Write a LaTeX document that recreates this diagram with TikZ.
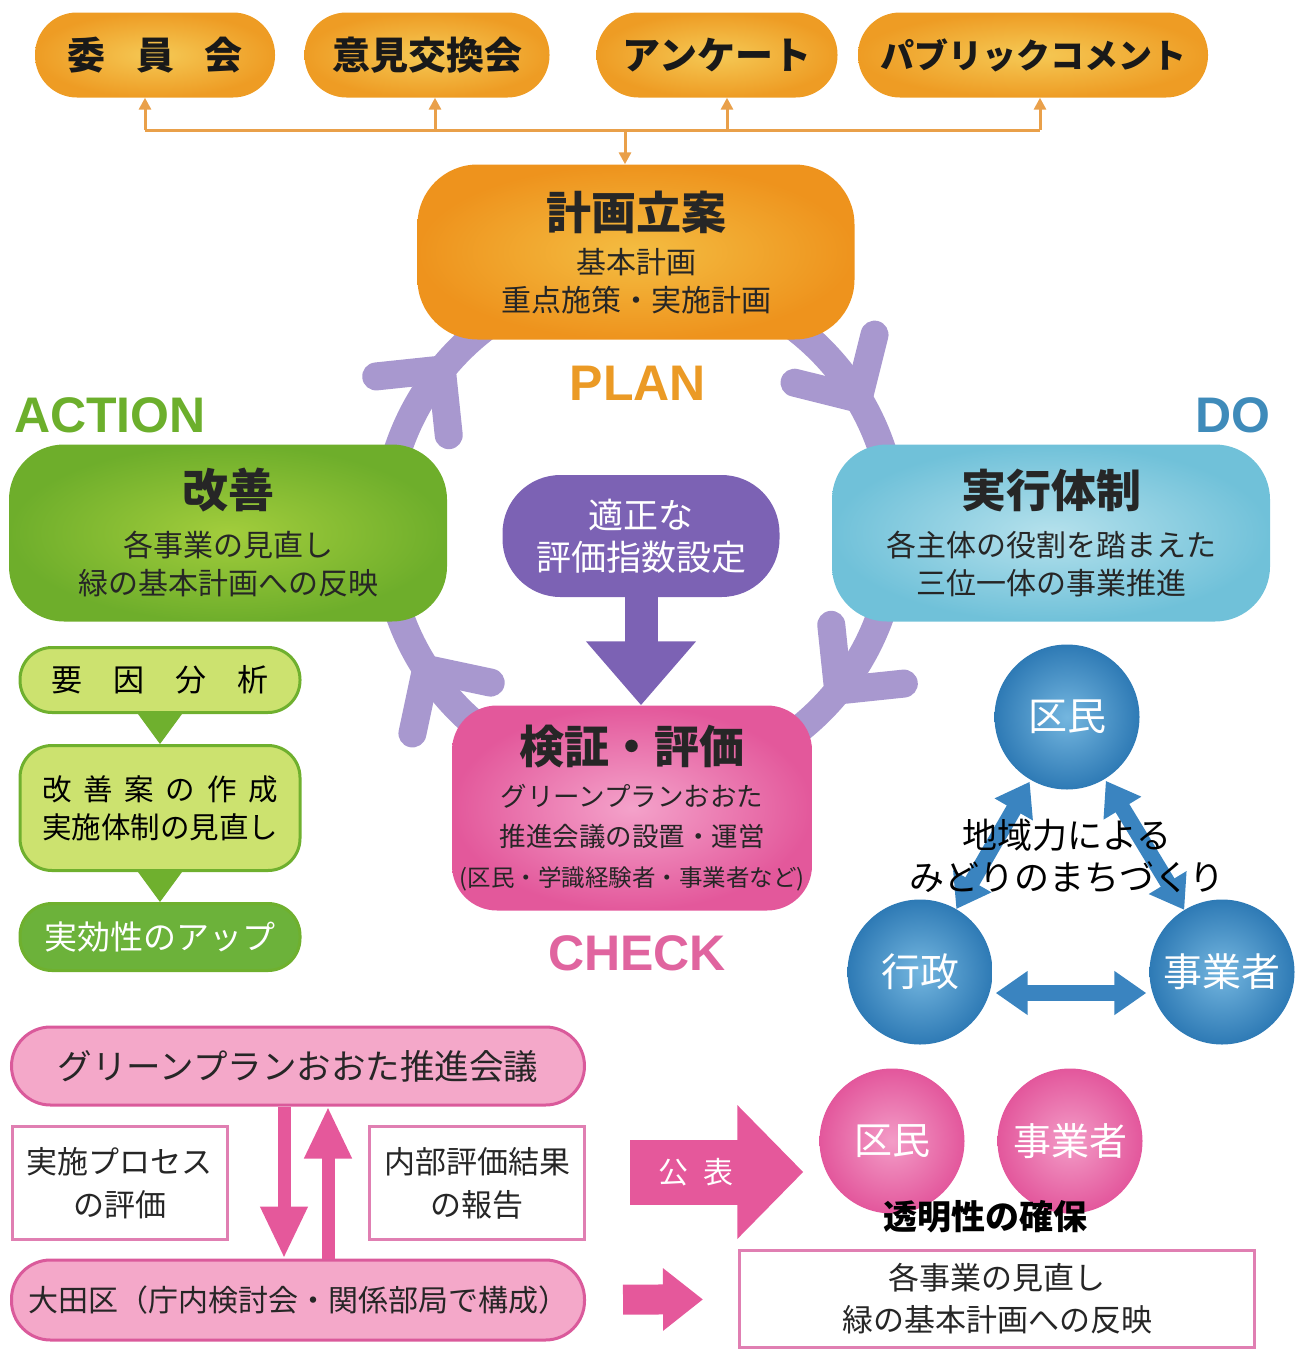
\documentclass[tikz,border=0pt]{standalone}
\usepackage{fontspec}
\setmainfont{Noto Sans CJK JP}
\newfontfamily\latin{Liberation Sans}
\usetikzlibrary{arrows.meta}

\definecolor{orA}{HTML}{F5C955}
\definecolor{orB}{HTML}{EE9C24}
\definecolor{orL}{HTML}{E9A04A}
\definecolor{plA}{HTML}{F4BD42}
\definecolor{plB}{HTML}{EE931D}
\definecolor{grA}{HTML}{A2CD3C}
\definecolor{grB}{HTML}{6EAE2B}
\definecolor{blA}{HTML}{B5E1EC}
\definecolor{blB}{HTML}{70C1D9}
\definecolor{ckA}{HTML}{F4A2CA}
\definecolor{ckB}{HTML}{E3589B}
\definecolor{purp}{HTML}{7C62B4}
\definecolor{ringc}{HTML}{A898CF}
\definecolor{lg}{HTML}{CCE26F}
\definecolor{gB}{HTML}{6FB02E}
\definecolor{gD}{HTML}{6CB23A}
\definecolor{bcA}{HTML}{74B6DF}
\definecolor{bcB}{HTML}{2E7AB5}
\definecolor{bA}{HTML}{3A84C0}
\definecolor{pF}{HTML}{F4A8C9}
\definecolor{pB}{HTML}{DA5A9B}
\definecolor{pB2}{HTML}{E07FB2}
\definecolor{pA}{HTML}{E5589B}
\definecolor{pcA}{HTML}{F39CC7}
\definecolor{pcB}{HTML}{E3579C}
\definecolor{planlab}{HTML}{EB9A25}
\definecolor{actlab}{HTML}{6CAF2C}
\definecolor{dolab}{HTML}{3F8BBA}
\definecolor{chklab}{HTML}{E0649F}

\begin{document}
\begin{tikzpicture}[x=1pt, y=-1pt,
  pill/.style={rounded corners=42pt, minimum width=240pt, minimum height=85pt, inner sep=0pt,
               inner color=orA, outer color=orB, text=black!90,
               font=\bfseries\fontsize{38}{40}\selectfont},
  box/.style={rounded corners=55pt, minimum width=438pt, minimum height=177pt, inner sep=0pt,
              align=center, text=black!85, font=\fontsize{30}{38}\selectfont},
  phase/.style={font=\latin\bfseries\fontsize{50}{50}\selectfont},
  ring/.style={draw=ringc, line width=28pt, line cap=round, line join=round},
  obus/.style={draw=orL, line width=3pt},
  oarr/.style={obus, -{Triangle[width=12pt,length=12pt]}},
  gpill/.style={draw=gB, line width=3pt, fill=lg, rounded corners=32pt, minimum width=280pt,
                inner sep=0pt, align=center},
  bdisc/.style={circle, minimum size=145pt, inner sep=0pt, inner color=bcA, outer color=bcB,
                text=white, font=\fontsize{39}{40}\selectfont},
  pdisc/.style={bdisc, inner color=pcA, outer color=pcB},
  barr/.style={draw=bA, line width=16pt,
               {Triangle[width=42pt,length=32pt]}-{Triangle[width=42pt,length=32pt]}},
  ppill/.style={draw=pB, line width=3pt, fill=pF, rounded corners=39pt, minimum width=573pt,
                inner sep=0pt, text=black!85},
  pbox/.style={draw=pB2, line width=3pt, fill=white, align=center, inner sep=0pt,
               text=black!85, font=\fontsize{31}{43}\selectfont},
  parr/.style={draw=pA, line width=13pt, -{Triangle[width=44pt,length=52pt]}}
]
\useasboundingbox (0,0) rectangle (1301,1349);

% PDCA ring
\draw[ring] (640,530) circle[radius=255];
\foreach \a in {219,329,39,147}
  \draw[ring] (640,530) ++(\a:255) ++(\a-45:66) -- ++(\a+135:66) -- ++(\a-135:66);

% top row
\node[pill] (iin) at (155,55) {委\hspace{0.8em}員\hspace{0.8em}会};
\node[pill, minimum width=245pt] (iken) at (427,55) {意見交換会};
\node[pill, minimum width=241pt] (enq) at (717,55) {アンケート};
\node[pill, minimum width=350pt, font=\bfseries\fontsize{34}{36}\selectfont] (pub) at (1033,55) {パブリックコメント};

\coordinate (bus) at (625,130);
\draw[obus] ([xshift=-10pt]iin.south |- bus) -- ([xshift=7pt]pub.south |- bus);
\draw[oarr] ([xshift=-10pt]iin.south |- bus) -- ([xshift=-10pt]iin.south);
\draw[oarr] ([xshift=8pt]iken.south |- bus) -- ([xshift=8pt]iken.south);
\draw[oarr] ([xshift=10pt]enq.south |- bus) -- ([xshift=10pt]enq.south);
\draw[oarr] ([xshift=7pt]pub.south |- bus) -- ([xshift=7pt]pub.south);

% the four phases
\node[box, minimum width=437pt, minimum height=175pt, rounded corners=60pt, inner color=plA, outer color=plB] (plan) at (636,252)
  {{\fontsize{45}{50}\selectfont\bfseries 計画立案}\\[6pt]基本計画\\重点施策・実施計画};
\draw[oarr] (bus) -- (bus |- plan.north);

\node[box, inner color=grA, outer color=grB] (kaizen) at (228,533)
  {{\fontsize{46}{50}\selectfont\bfseries 改善}\\[11pt]各事業の見直し\\緑の基本計画への反映};
\node[box, inner color=blA, outer color=blB] (jikko) at (1051,533)
  {{\fontsize{45}{50}\selectfont\bfseries 実行体制}\\[11pt]各主体の役割を踏まえた\\三位一体の事業推進};
\node[box, minimum width=360pt, minimum height=205pt, rounded corners=45pt, inner color=ckA, outer color=ckB,
      font=\fontsize{26.5}{40}\selectfont] (check) at (632,808)
  {{\fontsize{45}{50}\selectfont\bfseries 検証・評価}\\[3pt]グリーンプランおおた\\推進会議の設置・運営\\{\fontsize{23.5}{40}\selectfont (区民・学識経験者・事業者など)}};

\node[box, minimum width=277pt, minimum height=122pt, rounded corners=58pt, fill=purp, text=white,
      font=\fontsize{35}{42}\selectfont] (index) at (641,536) {適正な\\評価指数設定};
\draw[draw=purp, line width=33pt, -{Triangle[width=106pt,length=64pt]}] (index.south) -- (index.south |- check.north);

\node[phase, text=planlab] (plantag) at (638,383) {PLAN};
\node[phase, text=actlab] (acttag) at (110,415) {ACTION};
\node[phase, text=dolab] (dotag) at (1233,415) {DO};
\node[phase, text=chklab] (chktag) at (637,953) {CHECK};

% improvement steps
\node[gpill, minimum height=65pt, font=\fontsize{31}{36}\selectfont] (yoin) at (160,680)
  {要\hspace{1em}因\hspace{1em}分\hspace{1em}析};
\node[gpill, minimum height=125pt, font=\fontsize{29.5}{38}\selectfont] (kaian) at (160,808)
  {改\hspace{.4em}善\hspace{.4em}案\hspace{.4em}の\hspace{.4em}作\hspace{.4em}成\\実施体制の見直し};
\node[gpill, minimum height=67pt, fill=gD, text=white, font=\fontsize{33}{36}\selectfont] (appu) at (160,937)
  {実効性のアップ};
\fill[gB] ([xshift=-22pt]yoin.south) -- ([xshift=22pt]yoin.south) -- (kaian.north) -- cycle;
\fill[gB] ([xshift=-22pt]kaian.south) -- ([xshift=22pt]kaian.south) -- (appu.north) -- cycle;

% three actors
\node[bdisc] (kumin) at (1067,717) {区民};
\node[bdisc] (gyosei) at (920,972) {行政};
\node[bdisc] (jigyo) at (1222,972) {事業者};
\draw[barr, shorten <=2pt] (kumin) -- (gyosei);
\draw[barr, shorten <=2pt] (kumin) -- (jigyo);
\draw[barr, shorten <=3pt, shorten >=3pt] ([yshift=-21pt]gyosei.east) -- ([yshift=-21pt]jigyo.west);
\node[align=center, font=\fontsize{35}{42}\selectfont] (chiiki) at (1067,856) {地域力による\\みどりのまちづくり};

% promotion council
\node[ppill, minimum height=78pt, font=\fontsize{34.5}{40}\selectfont] (suishin) at (298,1066) {グリーンプランおおた推進会議};
\node[pbox, minimum width=215pt, minimum height=113pt] (process) at (120,1183) {実施プロセス\\の評価};
\node[pbox, minimum width=215pt, minimum height=113pt] (report) at (477,1183) {内部評価結果\\の報告};
\node[ppill, minimum height=80pt, font=\fontsize{30}{36}\selectfont] (oota) at (298,1300) {大田区（庁内検討会・関係部局で構成）};
\draw[parr] ([xshift=-14pt]suishin.south) -- ([xshift=-14pt]oota.north);
\draw[parr] ([xshift=30pt]oota.north) -- ([xshift=30pt]suishin.south);

% publication
\node[pdisc, font=\fontsize{38}{40}\selectfont] (kumin2) at (892,1141) {区民};
\node[pdisc, font=\fontsize{38}{40}\selectfont] (jigyo2) at (1070,1141) {事業者};
\node[font=\bfseries\fontsize{34}{36}\selectfont] (toumei) at (985,1217) {透明性の確保};
\coordinate (pub0) at (630,1172);
\draw[draw=pA, line width=65pt, -{Triangle[width=130pt,length=66pt]}, shorten >=16pt] (pub0) -- (pub0 -| kumin2.west)
  node[pos=.35, text=white, font=\fontsize{30}{32}\selectfont] {公\hspace{.5em}表};
\node[pbox, minimum width=515pt, minimum height=97pt, font=\fontsize{31}{42}\selectfont] (mina) at (997,1299)
  {各事業の見直し\\緑の基本計画への反映};
\draw[draw=pA, line width=30pt, -{Triangle[width=60pt,length=40pt]}, shorten <=37pt, shorten >=35pt] (oota) -- (mina);
\end{tikzpicture}
\end{document}
